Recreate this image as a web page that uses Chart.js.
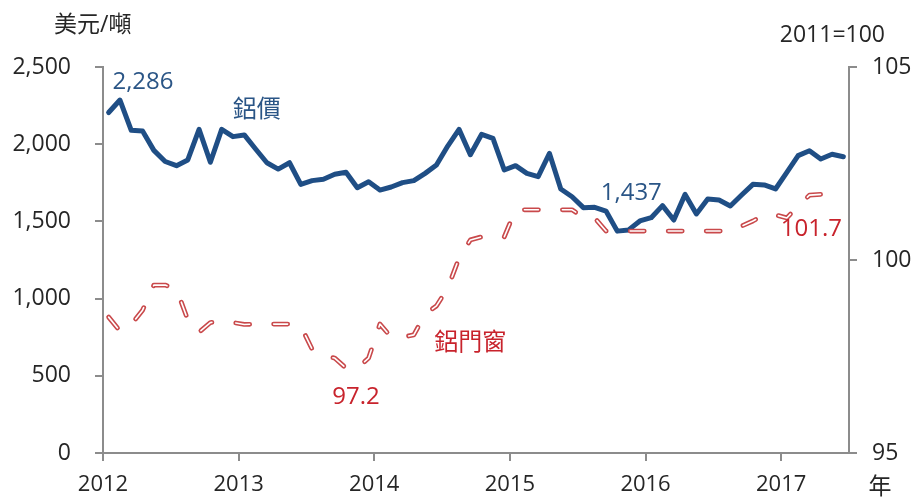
<!DOCTYPE html>
<html><head><meta charset="utf-8">
<script src="https://cdn.jsdelivr.net/npm/chart.js@4/dist/chart.umd.min.js"></script>
<style>html,body{margin:0;padding:0;background:#fff}#wrap{width:919px;height:499px}</style>
</head><body><div id="wrap"><canvas id="c" width="919" height="499"></canvas></div>
<script>
// ---- data ----
const years = ['2012', '2013', '2014', '2015', '2016', '2017'];
// monthly, Jan 2012 - Jun 2017 (USD / ton)
const aluminumPrice = [
  2205, 2286, 2090, 2085, 1960, 1888, 1861, 1898, 2096, 1883, 2096, 2049,
  2060, 1969, 1880, 1839, 1880, 1740, 1764, 1773, 1805, 1818, 1718, 1757,
  1703, 1723, 1751, 1764, 1811, 1865, 1988, 2096, 1932, 2064, 2038, 1833,
  1861, 1811, 1790, 1940, 1710, 1660, 1589, 1591, 1567, 1437, 1445, 1503,
  1524, 1602, 1509, 1675, 1548, 1645, 1638, 1600, 1671, 1740, 1736, 1710,
  1818, 1926, 1958, 1904, 1935, 1919
];
// aluminum doors & windows price index (2011=100)
const doorWindowIndex = [
  98.52, 98.16, 98.33, 98.70, 99.35, 99.35, 99.25, 98.45, 98.13, 98.38, 98.41, 98.38,
  98.33, 98.34, 98.34, 98.34, 98.34, 98.29, 97.69, 97.51, 97.46, 97.20, 97.20, 97.46,
  98.34, 98.00, 98.00, 98.06, 98.60, 98.81, 99.27, 100.05, 100.52, 100.60, 100.60, 100.60,
  101.30, 101.30, 101.30, 101.30, 101.30, 101.30, 101.11, 101.09, 100.75, 100.75, 100.75, 100.75,
  100.75, 100.75, 100.75, 100.75, 100.75, 100.75, 100.75, 100.75, 100.88, 101.01, 101.17, 101.17,
  101.09, 101.40, 101.68, 101.70, 101.70, 101.70
];
const leftAxis = { min: 0, max: 2500, step: 500 };
const rightAxis = { min: 95, max: 105, step: 5 };
const priceName = '鋁價';
const indexName = '鋁門窗';
const leftUnit = '美元/噸';
const rightUnit = '2011=100';
const xUnit = '年';

// ---- styles ----
const BLUE = '#1F4E85';
const BLUE_TXT = '#2A5586';
const RED = '#C9494B';
const RED_TXT = '#C8232C';
const AXIS = '#8C8C8C';
const TXT = '#262626';
const FONT = '"Open Sans","Noto Sans CJK TC",sans-serif';
const DASH = [14, 24];

const toXY = arr => arr.map((v, i) => ({ x: i, y: v }));

const textPlugin = {
  id: 'texts',
  afterDraw(chart) {
    const { ctx, chartArea: ca, scales } = chart;
    const x = scales.x, y = scales.y, y1 = scales.y1;
    ctx.save();
    ctx.font = '23px ' + FONT;
    ctx.textBaseline = 'middle';
    // units
    ctx.fillStyle = TXT;
    ctx.textAlign = 'left';
    ctx.fillText(leftUnit, ca.left - 49, ca.top - 42);
    ctx.textAlign = 'right';
    ctx.fillText(rightUnit, ca.right + 36, ca.top - 32);
    ctx.textAlign = 'center';
    ctx.fillText(xUnit, ca.right + 31, ca.bottom + 34);
    // value labels
    ctx.font = '24px ' + FONT;
    const fmt = v => v.toLocaleString('en-US');
    const hi = 1, lo = 45, idxLo = 21, idxLast = doorWindowIndex.length - 1;
    ctx.fillStyle = BLUE_TXT;
    ctx.fillText(fmt(aluminumPrice[hi]), x.getPixelForValue(hi) + 23, y.getPixelForValue(aluminumPrice[hi]) - 18);
    ctx.fillText(fmt(aluminumPrice[lo]), x.getPixelForValue(lo) + 14, y.getPixelForValue(aluminumPrice[lo]) - 38);
    ctx.fillText(priceName, x.getPixelForValue(13.1), y.getPixelForValue(2221));
    ctx.fillStyle = RED_TXT;
    ctx.fillText(doorWindowIndex[idxLo].toFixed(1), x.getPixelForValue(idxLo) + 10, y1.getPixelForValue(doorWindowIndex[idxLo]) + 29);
    ctx.fillText(doorWindowIndex[idxLast].toFixed(1), x.getPixelForValue(idxLast) - 32, y1.getPixelForValue(doorWindowIndex[idxLast]) + 35);
    ctx.fillText(indexName, x.getPixelForValue(32.0), y1.getPixelForValue(97.85));
    ctx.restore();
  }
};

const axisGrid = { drawOnChartArea: false, drawTicks: true, tickLength: 8, color: AXIS, lineWidth: 2 };
const axisBorder = { display: true, color: AXIS, width: 2 };

new Chart(document.getElementById('c'), {
  type: 'line',
  data: {
    datasets: [
      { label: indexName + '-inner', data: toXY(doorWindowIndex), yAxisID: 'y1', borderColor: '#FFFFFF',
        borderWidth: 1.6, borderDash: DASH, borderCapStyle: 'round', borderJoinStyle: 'round',
        pointRadius: 0, tension: 0, order: 0 },
      { label: indexName, data: toXY(doorWindowIndex), yAxisID: 'y1', borderColor: RED,
        borderWidth: 4.8, borderDash: DASH, borderCapStyle: 'round', borderJoinStyle: 'round',
        pointRadius: 0, tension: 0, order: 1 },
      { label: priceName, data: toXY(aluminumPrice), yAxisID: 'y', borderColor: BLUE,
        borderWidth: 5, borderCapStyle: 'round', borderJoinStyle: 'round',
        pointRadius: 0, tension: 0, order: 2 }
    ]
  },
  options: {
    responsive: false,
    animation: false,
    events: [],
    layout: { padding: { top: 67, left: 0, right: 0, bottom: 0 }, autoPadding: false },
    plugins: { legend: { display: false }, tooltip: { enabled: false } },
    scales: {
      x: {
        type: 'linear', min: -0.5, max: aluminumPrice.length - 0.5,
        afterBuildTicks: s => { s.ticks = years.map((_, k) => ({ value: k * 12 - 0.5 })); },
        afterFit: s => { s.height = 46; },
        grid: axisGrid, border: axisBorder,
        ticks: { autoSkip: false, maxRotation: 0, padding: 11, color: TXT, font: { size: 22, family: FONT },
          callback: v => years[Math.round((v + 0.5) / 12)] }
      },
      y: {
        position: 'left', min: leftAxis.min, max: leftAxis.max,
        afterFit: s => { s.width = 103; },
        grid: axisGrid, border: axisBorder,
        ticks: { stepSize: leftAxis.step, padding: 24, color: TXT, font: { size: 23, family: FONT },
          callback: v => v.toLocaleString('en-US') }
      },
      y1: {
        position: 'right', min: rightAxis.min, max: rightAxis.max,
        afterFit: s => { s.width = 70; },
        grid: axisGrid, border: axisBorder,
        ticks: { stepSize: rightAxis.step, padding: 15, color: TXT, font: { size: 23, family: FONT } }
      }
    }
  },
  plugins: [textPlugin]
});
</script></body></html>
